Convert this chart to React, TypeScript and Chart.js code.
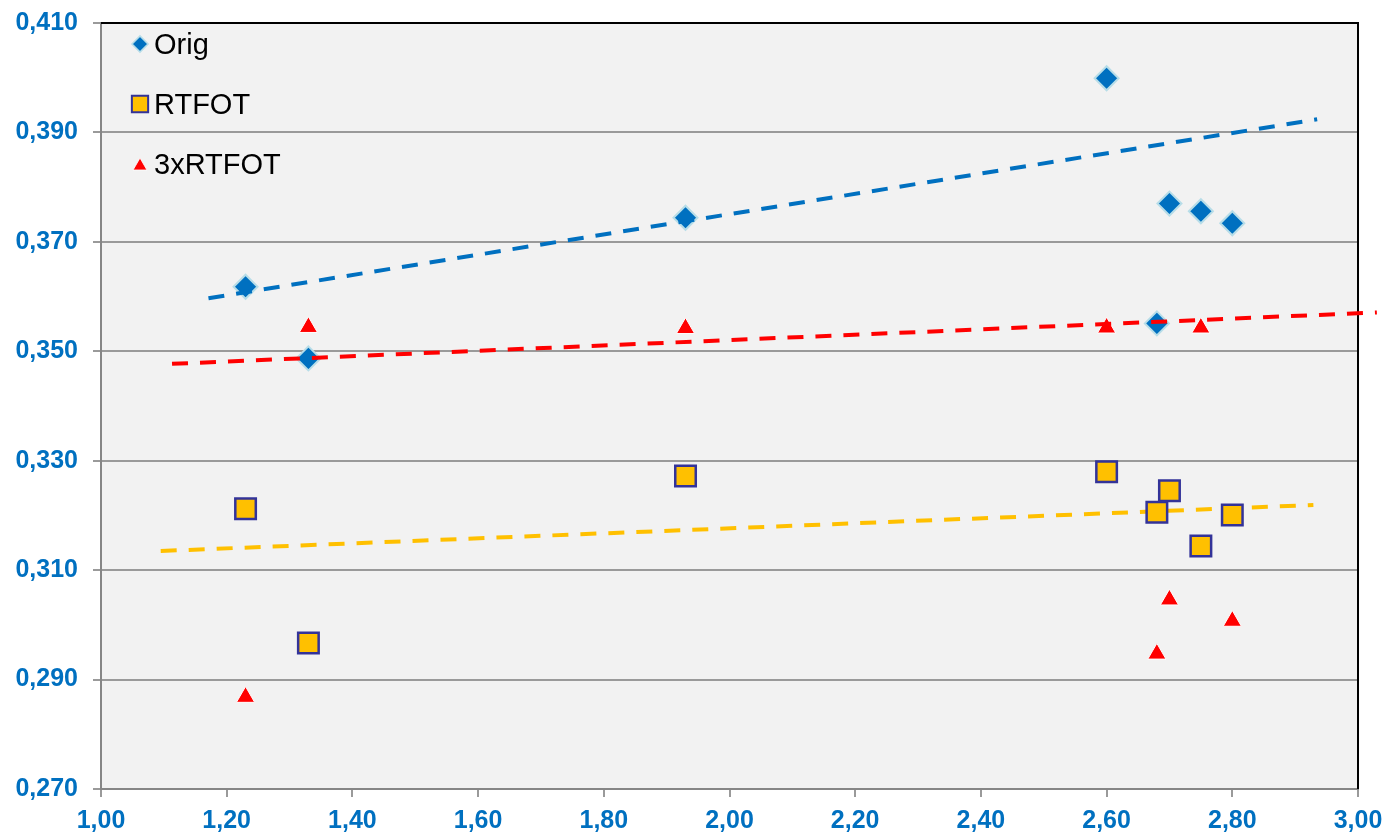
import { useEffect, useRef } from "react";
import { Chart, registerables } from "chart.js";
import { drawPoint } from "chart.js/helpers";

Chart.register(...registerables);

// measured values
const seriesNames = ["Orig", "RTFOT", "3xRTFOT"];
const xValues = [1.23, 1.33, 1.93, 2.6, 2.68, 2.7, 2.75, 2.8];
const origValues = [0.3618, 0.3487, 0.3744, 0.3999, 0.3551, 0.377, 0.3756, 0.3734];
const rtfotValues = [0.3212, 0.2967, 0.3272, 0.328, 0.3206, 0.3245, 0.3144, 0.3201];
const rtfot3Values = [0.2868, 0.3544, 0.3542, 0.3543, 0.2947, 0.3046, 0.3543, 0.3007];

// trend lines (ends)
const origTrendX = [1.171, 2.935];
const origTrendY = [0.3597, 0.3924];
const rtfotTrendX = [1.095, 2.929];
const rtfotTrendY = [0.3135, 0.3219];
const rtfot3TrendX = [1.113, 3.03];
const rtfot3TrendY = [0.3477, 0.3571];

const xTicks = [1.0, 1.2, 1.4, 1.6, 1.8, 2.0, 2.2, 2.4, 2.6, 2.8, 3.0];
const yTicks = [0.27, 0.29, 0.31, 0.33, 0.35, 0.37, 0.39, 0.41];

const FONT = "'Liberation Sans', Arial, sans-serif";
const BLUE = "#0070c0";
const GRID = "#9a9a9a";

const pts = (xs: number[], ys: number[]) => xs.map((x, i) => ({ x, y: ys[i] }));

const markerStyles = [
  { pointStyle: "rectRot", radius: 12, bg: BLUE, border: "#b7dde8", bw: 2, legendR: 8 },
  { pointStyle: "rect", radius: 14.5, bg: "#ffc000", border: "#333399", bw: 2.5, legendR: 11.5 },
  { pointStyle: "triangle", radius: 10.5, bg: "#ff0000", border: "#ffffff", bw: 1, legendR: 8 },
];

const framePlugin = {
  id: "frame",
  beforeDraw(chart: any) {
    const { ctx, chartArea: a } = chart;
    ctx.save();
    ctx.fillStyle = "#f2f2f2";
    ctx.fillRect(a.left, a.top, a.right - a.left, a.bottom - a.top);
    ctx.restore();
  },
  beforeDatasetsDraw(chart: any) {
    const { ctx, chartArea: a } = chart;
    ctx.save();
    ctx.strokeStyle = "#000000";
    ctx.lineWidth = 2;
    ctx.beginPath();
    ctx.moveTo(a.left, a.top);
    ctx.lineTo(a.right, a.top);
    ctx.lineTo(a.right, a.bottom);
    ctx.stroke();
    ctx.restore();
  },
  afterDraw(chart: any) {
    const { ctx, chartArea: a } = chart;
    ctx.save();
    seriesNames.forEach((name, i) => {
      const m = markerStyles[i];
      const base = a.top + 31 + i * 60;
      const cy = i === 2 ? base - 8 : base - 10;
      ctx.fillStyle = m.bg;
      ctx.strokeStyle = m.border;
      ctx.lineWidth = m.bw * 0.8;
      drawPoint(ctx, { pointStyle: m.pointStyle, radius: m.legendR, rotation: 0, borderWidth: m.bw * 0.8 } as any, a.left + 39, cy);
      ctx.fillStyle = "#000000";
      ctx.font = `29px ${FONT}`;
      ctx.textAlign = "left";
      ctx.textBaseline = "alphabetic";
      ctx.fillText(name, a.left + 53, base);
    });
    ctx.restore();
  },
};

export default function App() {
  const canvasRef = useRef<HTMLCanvasElement | null>(null);

  useEffect(() => {
    if (!canvasRef.current) return;
    const marker = (i: number, values: number[], order: number) => ({
      label: seriesNames[i],
      data: pts(xValues, values),
      pointStyle: markerStyles[i].pointStyle,
      pointRadius: markerStyles[i].radius,
      backgroundColor: markerStyles[i].bg,
      borderColor: markerStyles[i].border,
      borderWidth: markerStyles[i].bw,
      showLine: false,
      order,
    });
    const trend = (xs: number[], ys: number[], color: string, order: number, clip?: boolean) => ({
      label: "trend",
      data: pts(xs, ys),
      showLine: true,
      pointRadius: 0,
      borderColor: color,
      borderWidth: 4,
      borderDash: [16, 12],
      borderCapStyle: "butt",
      tension: 0,
      fill: false,
      order,
      ...(clip === false ? { clip: false } : {}),
    });

    const chart = new Chart(canvasRef.current.getContext("2d")!, {
      type: "scatter",
      data: {
        datasets: [
          trend(rtfot3TrendX, rtfot3TrendY, "#ff0000", 0, false),
          trend(origTrendX, origTrendY, BLUE, 1),
          marker(0, origValues, 2),
          marker(2, rtfot3Values, 3),
          marker(1, rtfotValues, 4),
          trend(rtfotTrendX, rtfotTrendY, "#ffc000", 5),
        ] as any,
      },
      options: {
        animation: false,
        responsive: true,
        maintainAspectRatio: false,
        layout: { padding: { top: 23, right: 31, left: 0, bottom: 0 } },
        plugins: { legend: { display: false }, tooltip: { enabled: false } },
        scales: {
          x: {
            type: "linear",
            min: 1,
            max: 3,
            afterBuildTicks: (s: any) => {
              s.ticks = xTicks.map((value) => ({ value }));
            },
            afterFit: (s: any) => {
              s.height = 47;
              s.paddingLeft = 0;
              s.paddingRight = 0;
            },
            grid: { drawOnChartArea: false, drawTicks: true, tickLength: 8, color: GRID, lineWidth: 2 },
            border: { color: "#868686", width: 2 },
            ticks: {
              color: BLUE,
              font: { family: FONT, size: 25, weight: "bold" },
              padding: 9,
              maxRotation: 0,
              autoSkip: false,
              callback: (v: any) => Number(v).toFixed(2).replace(".", ","),
            },
          },
          y: {
            min: 0.27,
            max: 0.41,
            afterBuildTicks: (s: any) => {
              s.ticks = yTicks.map((value) => ({ value }));
            },
            afterFit: (s: any) => {
              s.width = 101;
              s.paddingTop = 0;
              s.paddingBottom = 0;
            },
            grid: { drawTicks: true, tickLength: 8, color: GRID, lineWidth: 2 },
            border: { color: "#868686", width: 2 },
            ticks: {
              color: BLUE,
              font: { family: FONT, size: 25, weight: "bold" },
              padding: 15,
              autoSkip: false,
              callback: (v: any) => Number(v).toFixed(3).replace(".", ","),
            },
          },
        },
      } as any,
      plugins: [framePlugin],
    });

    return () => {
      chart.destroy();
    };
  }, []);

  return (
    <div style={{ position: "fixed", left: 0, top: 0, width: "1389px", height: "836px", background: "#ffffff" }}>
      <canvas ref={canvasRef} />
    </div>
  );
}
